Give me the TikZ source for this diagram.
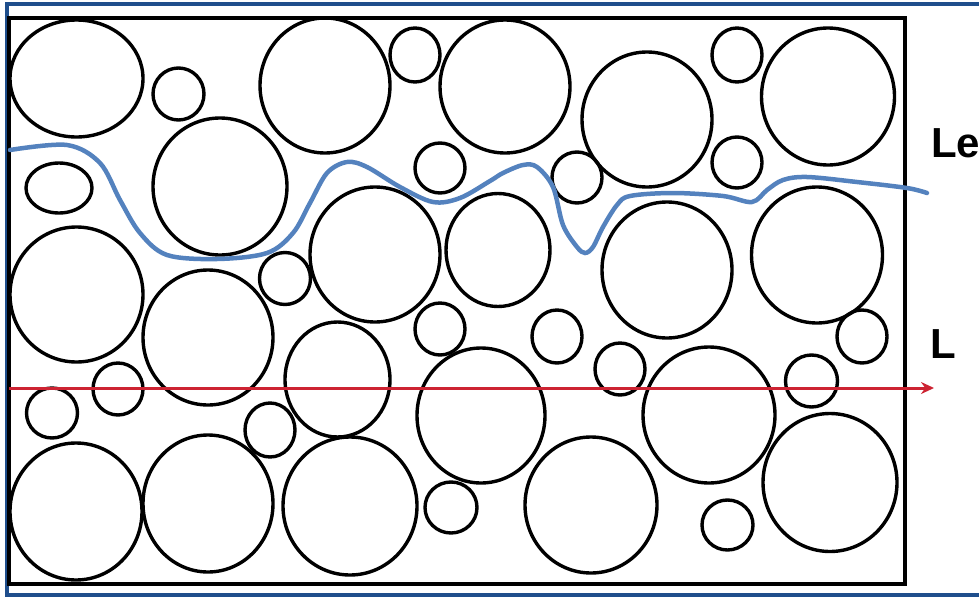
\documentclass[tikz,border=0pt]{standalone}
\usepackage{fontspec}
\setmainfont{Liberation Sans}
\usetikzlibrary{arrows.meta}
\definecolor{framecolor}{RGB}{31,78,140}
\definecolor{lecolor}{RGB}{84,130,190}
\definecolor{lcolor}{RGB}{205,35,50}
\tikzset{
  particle/.style={draw=black, line width=3.4pt},
  pathlabel/.style={font=\fontsize{42}{46}\selectfont\bfseries, inner sep=0pt, anchor=base west}
}

\begin{document}
\begin{tikzpicture}[x=1pt, y=-1pt, >={Stealth[length=13pt, width=12pt]}]
  \useasboundingbox (0,0) rectangle (979,597);

  % -- frame and box --
  \draw[framecolor, line width=4pt] (7,3.5) rectangle (995,594.5);
  \draw[line width=3.4pt] (9,18) rectangle (905,584);

  % -- particles: cx/cy/rx/ry --
  \foreach \cx/\cy/\rx/\ry in {
      76.5/78.5/66.5/58.5, 178.5/94/25.5/26, 325/85.5/65/67.5, 415/55/25/27,
      505/86.5/65/66.5, 647/119.5/65/67.5, 737/55/25/27, 828/96.5/66.5/68.5,
      59/188/33/25, 220/186.5/67/68.5, 440/168/25/25, 577/177.5/25/25.5,
      737/162.5/25/25.5,
      76.5/294.5/66.5/67.5, 208/337.5/65/67.5, 285/278.5/25.5/26,
      375/254.5/65/67.5, 498/250/52/56.5, 667/270/65/68, 817/255/65.5/68,
      440/329/25/26, 557/336.5/25/26.5, 862/336.5/25/26.5,
      118/389/25/26, 52/413/25.5/25, 337.5/379.5/52.5/57.5, 270/430/25/27,
      481/415.5/64/67.5, 620/369/25/26, 709/415/66/68, 811.5/381/26/26,
      451/507.5/26/25.5, 76/511.5/66/68.5, 208/503.5/65/68.5, 350/506/67/69,
      591/505/66/68, 727.5/525/25.5/25, 830/482.5/67/69} {
    \draw[particle] (\cx,\cy) ellipse [x radius=\rx, y radius=\ry];
  }

  % -- effective path Le --
  \draw[lecolor, line width=4.5pt, line cap=round] plot[smooth, tension=0.55] coordinates {
      (10,150) (67,145) (100,163) (120,200) (140,233) (167,255) (217,259)
      (267,253) (293,233) (310,203) (327,173) (347,162) (367,167) (400,187)
      (433,202) (460,198) (490,181) (503,173) (523,165) (537,167) (553,187)
      (563,225) (577,247) (585,253) (593,247) (603,227) (617,205) (630,196)
      (673,193) (723,196) (752,202) (767,190) (783,180) (807,177) (857,182)
      (907,188) (927,193)};

  % -- straight length L --
  \coordinate (Lstart) at (9,388);
  \coordinate (Lend) at (934,388);
  \draw[lcolor, line width=3pt, ->] (Lstart) -- (Lend);

  % labels
  \node[pathlabel] (le) at (931,157) {Le};
  \node[pathlabel] (l) at (930,358) {L};

\end{tikzpicture}
\end{document}
